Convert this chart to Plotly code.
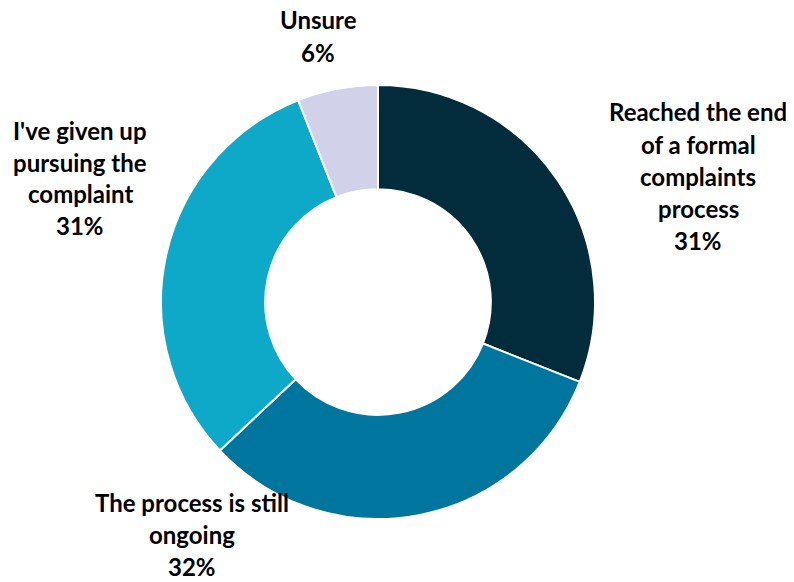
import plotly.graph_objects as go

categories = [
    "Reached the end of a formal complaints process",
    "The process is still ongoing",
    "I've given up pursuing the complaint",
    "Unsure",
]
values = [31, 32, 31, 6]
colors = ["#022c3b", "#00759d", "#0ea8c8", "#d1d1ea"]

# Label lines (category text wrapped as printed, followed by the share)
label_lines = [
    ["Reached the end", "of a formal", "complaints", "process"],
    ["The process is still", "ongoing"],
    ["I've given up", "pursuing the", "complaint"],
    ["Unsure"],
]
# Anchor (x, y of first line) in pixels from the top-left corner
label_anchor = [(698, 112), (192, 502), (80, 130), (318, 20)]
LINE_STEP = 32.0

W, H = 794, 582

fig = go.Figure(
    go.Pie(
        labels=categories,
        values=values,
        hole=0.52,
        sort=False,
        direction="clockwise",
        rotation=0,
        marker=dict(colors=colors, line=dict(color="white", width=2)),
        textinfo="none",
        hoverinfo="label+percent",
        domain=dict(x=[161 / W, 595 / W], y=[(H - 519) / H, (H - 85) / H]),
        showlegend=False,
    )
)

annotations = []
for lines, val, (ax, ay) in zip(label_lines, values, label_anchor):
    for i, txt in enumerate(lines + [f"{val}%"]):
        y = ay + i * LINE_STEP
        annotations.append(
            dict(
                x=ax / W,
                y=1 - y / H,
                xref="paper",
                yref="paper",
                text=f"<b>{txt}</b>",
                showarrow=False,
                xanchor="center",
                yanchor="middle",
                font=dict(family="Lato", size=24, color="#000000"),
            )
        )

fig.update_layout(
    width=W,
    height=H,
    margin=dict(l=0, r=0, t=0, b=0),
    paper_bgcolor="white",
    plot_bgcolor="white",
    annotations=annotations,
)

fig.write_html("out.html")
